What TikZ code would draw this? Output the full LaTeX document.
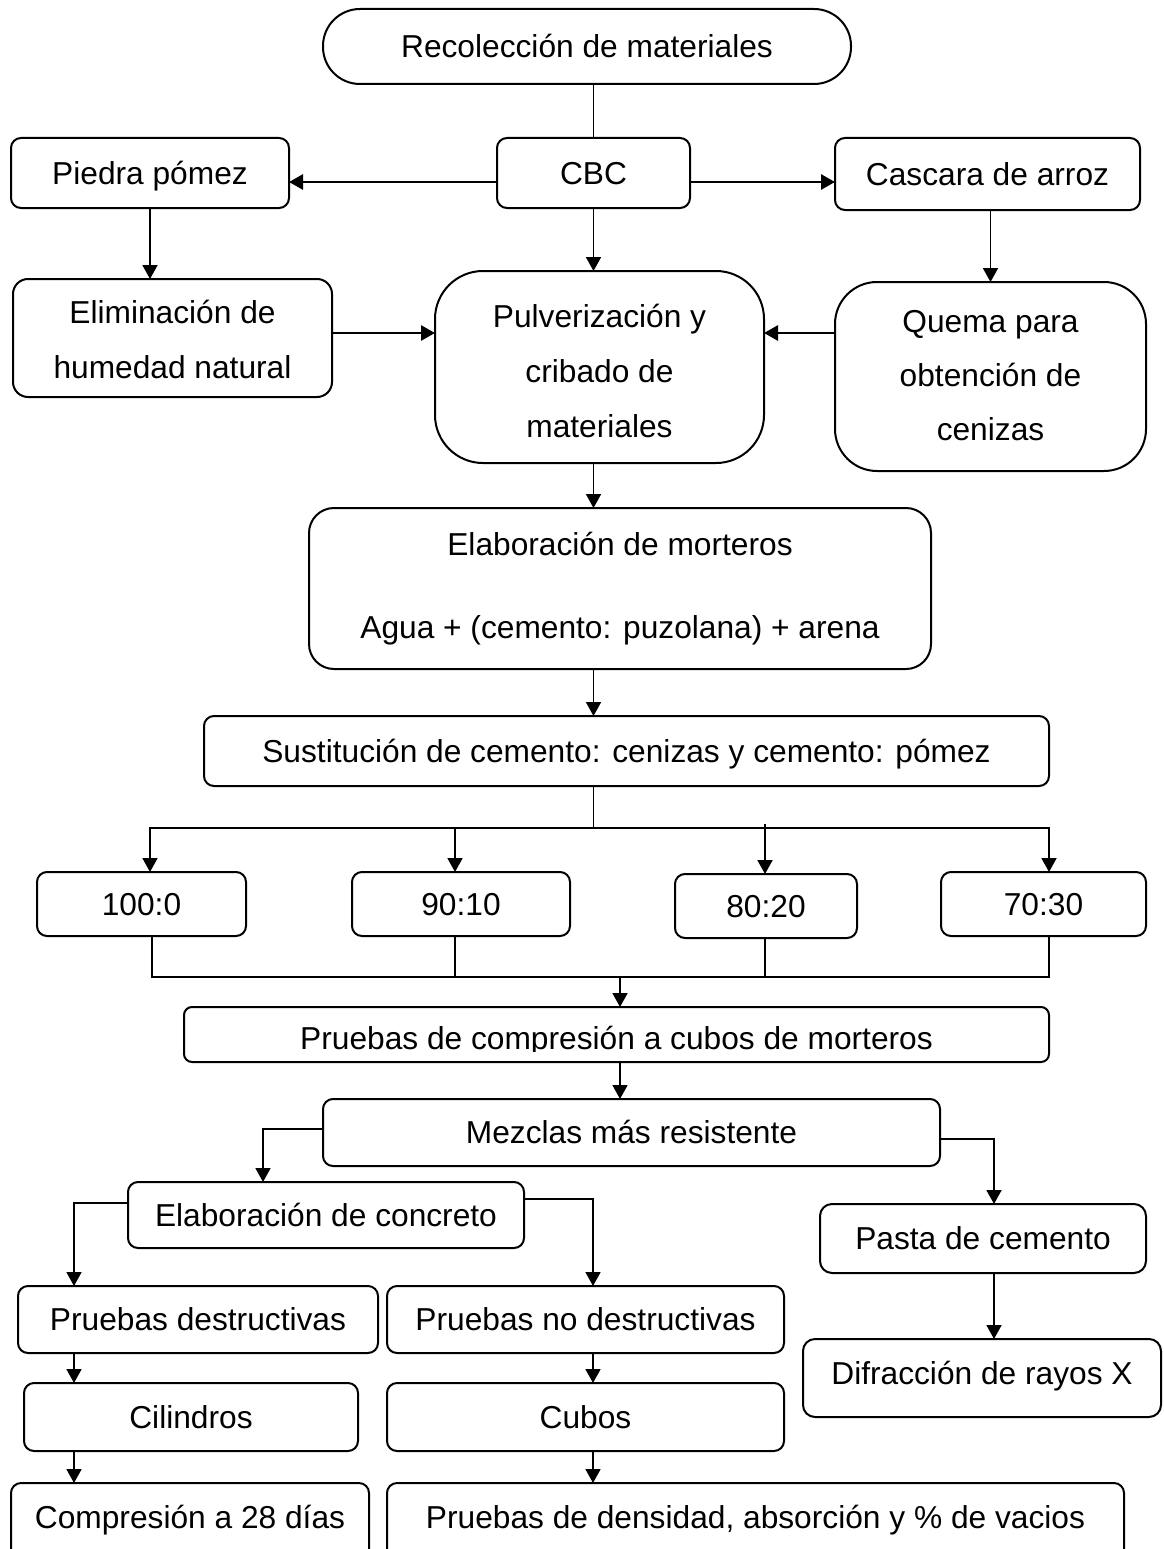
\documentclass[tikz,border=0pt]{standalone}
\usepackage{fontspec}
\setmainfont{Liberation Sans}
\usetikzlibrary{arrows.meta}
\tikzset{
  fnt/.style={font=\fontsize{31.7}{38}\selectfont},
  box/.style={draw, line width=2pt, inner sep=0pt, outer sep=0pt, text height=22.6pt, text depth=0pt, fnt},
  lbl/.style={anchor=base, inner sep=0pt, outer sep=0pt, fnt},
  ln/.style={line width=1.8pt},
  thk/.style={line width=2.8pt},
  arr/.style={line width=1.8pt, -{Triangle[length=14pt,width=15pt]}},
  tarr/.style={line width=2.8pt, -{Triangle[length=14pt,width=15pt]}},
}
\newcommand\mybox[7]{\node[box,rounded corners=#6pt,minimum width={#4pt-#2pt},minimum height={#5pt-#3pt}] (#1) at ({(#2+#4)/2},{(#3+#5)/2}) {#7};}
\begin{document}
\begin{tikzpicture}[x=1pt,y=-1pt]
\useasboundingbox (0,0) rectangle (1163,1549);
\clip (0,0) rectangle (1163,1549);
% boxes
\mybox{rec}{323}{9}{851}{84}{37}{Recolección de materiales}
\mybox{piedra}{11}{138}{289}{208}{10}{Piedra pómez}
\mybox{cbc}{497}{138}{690}{208}{10}{CBC}
\mybox{cas}{835}{138}{1140}{210}{10}{Cascara de arroz}
\mybox{elim}{13}{279}{332}{397}{15}{}
\mybox{pulv}{435}{271}{764}{463}{48}{}
\mybox{quema}{835}{282}{1146}{471}{42}{}
\mybox{mort}{309}{508}{931}{669}{25}{}
\mybox{sust}{204}{716}{1049}{786}{10}{Sustitución de cemento: cenizas y cemento: pómez}
\mybox{n1}{37}{872}{246}{936}{10}{100:0}
\mybox{n2}{352}{872}{570}{936}{10}{90:10}
\mybox{n3}{675}{874}{857}{938}{10}{80:20}
\mybox{n4}{941}{872}{1146}{936}{10}{70:30}
\mybox{pc}{184}{1007}{1049}{1062}{8}{}
\mybox{mez}{323}{1099}{940}{1166}{10}{Mezclas más resistente}
\mybox{ec}{128}{1182}{524}{1248}{10}{Elaboración de concreto}
\mybox{pasta}{820}{1204}{1146}{1273}{12}{Pasta de cemento}
\mybox{dif}{803}{1339}{1161}{1417}{12}{}
\mybox{pd}{18}{1286}{378}{1353}{10}{Pruebas destructivas}
\mybox{pnd}{387}{1286}{784}{1353}{10}{Pruebas no destructivas}
\mybox{cil}{24}{1383}{358}{1451}{10}{Cilindros}
\mybox{cub}{387}{1383}{784}{1451}{10}{Cubos}
\mybox{comp}{11}{1483}{369}{1600}{10}{}
\mybox{dens}{387}{1483}{1124}{1600}{10}{}
% multi-line and special texts
\node[lbl] (elim1) at (elim.center |- 0,323) {Eliminación de};
\node[lbl] (elim2) at (elim.center |- 0,378) {humedad natural};
\node[lbl] (pulv1) at (pulv.center |- 0,327) {Pulverización y};
\node[lbl] (pulv2) at (pulv.center |- 0,382) {cribado de};
\node[lbl] (pulv3) at (pulv.center |- 0,437) {materiales};
\node[lbl] (quema1) at (quema.center |- 0,332) {Quema para};
\node[lbl] (quema2) at (quema.center |- 0,386) {obtención de};
\node[lbl] (quema3) at (quema.center |- 0,440) {cenizas};
\node[lbl] (mort1) at (mort.center |- 0,555) {Elaboración de morteros};
\node[lbl] (mort2) at (mort.center |- 0,638) {Agua + (cemento: puzolana) + arena};
\node[lbl] (dif1) at (dif.center |- 0,1384) {Difracción de rayos X};
\node[lbl] (comp1) at (comp.center |- 0,1528) {Compresión a 28 días};
\node[lbl] (dens1) at (dens.center |- 0,1528) {Pruebas de densidad, absorción y \% de vacios};
\begin{scope}
\clip (pc.north west) rectangle ([yshift=11pt]pc.south east);
\node[lbl] (pc1) at (pc.center |- 0,1049) {Pruebas de compresión a cubos de morteros};
\end{scope}
% connectors top
\draw[ln] (cbc.north |- rec.south) -- (cbc.north);
\draw[tarr] ([yshift=-9pt]cbc.west) -- ([yshift=-9pt]cbc.west -| piedra.east);
\draw[tarr] ([yshift=-9pt]cbc.east) -- ([yshift=-9pt]cbc.east -| cas.west);
\draw[arr] (piedra.south) -- (piedra.south |- elim.north);
\draw[arr] (cbc.south) -- (cbc.south |- pulv.north);
\draw[arr] (quema.north |- cas.south) -- (quema.north);
\coordinate (ya) at ([yshift=5pt]elim.east);
\draw[tarr] (ya) -- (pulv.west |- ya);
\draw[tarr] (quema.west |- ya) -- (pulv.east |- ya);
\draw[arr] (pulv.south -| cbc.south) -- (mort.north -| cbc.south);
\draw[arr] (mort.south -| cbc.south) -- (sust.north -| cbc.south);
% branching
\coordinate (s1) at (150,828);
\coordinate (s2) at (455,828);
\coordinate (s3) at (765,828);
\coordinate (s4) at (1049,828);
\draw[ln] (sust.south -| cbc.south) -- (s1 -| cbc.south);
\draw[line width=2.5pt] ([xshift=-0.9pt]s1) -- ([xshift=0.9pt]s4);
\draw[arr] (s1) -- (s1 |- n1.north);
\draw[arr] (s2) -- (s2 |- n2.north);
\draw[arr] ([yshift=4pt]s3) -- (s3 |- n3.north);
\draw[arr] (s4) -- (s4 |- n4.north);
\coordinate (c1) at (152,977);
\coordinate (c2) at (455,977);
\coordinate (c3) at (765,977);
\coordinate (c4) at (1049,977);
\coordinate (c0) at (620,977);
\draw[ln] (c1 |- n1.south) -- (c1);
\draw[ln] (c2 |- n2.south) -- (c2);
\draw[ln] (c3 |- n3.south) -- (c3);
\draw[ln] (c4 |- n4.south) -- (c4);
\draw[thk] ([xshift=-0.9pt]c1) -- ([xshift=0.9pt]c4);
\draw[arr] (c0) -- (c0 |- pc.north);
\draw[arr] (pc.south -| c0) -- (mez.north -| c0);
% lower part
\coordinate (m1) at (263,1129);
\coordinate (m2) at (994,1139);
\draw[thk] (mez.west |- m1) -- ([xshift=-0.9pt]m1);
\draw[arr] (m1) -- (m1 |- ec.north);
\draw[thk] (mez.east |- m2) -- ([xshift=0.9pt]m2);
\draw[arr] (m2) -- (m2 |- pasta.north);
\draw[arr] (pasta.south -| m2) -- (dif.north -| m2);
\coordinate (e1) at (74,1203);
\coordinate (e2) at (593,1199);
\draw[thk] (ec.west |- e1) -- ([xshift=-0.9pt]e1);
\draw[arr] (e1) -- (e1 |- pd.north);
\draw[thk] (ec.east |- e2) -- ([xshift=0.9pt]e2);
\draw[arr] (e2) -- (e2 |- pnd.north);
\draw[arr] (pd.south -| e1) -- (cil.north -| e1);
\draw[arr] (cil.south -| e1) -- (comp.north -| e1);
\draw[arr] (pnd.south -| e2) -- (cub.north -| e2);
\draw[arr] (cub.south -| e2) -- (dens.north -| e2);
\end{tikzpicture}
\end{document}
